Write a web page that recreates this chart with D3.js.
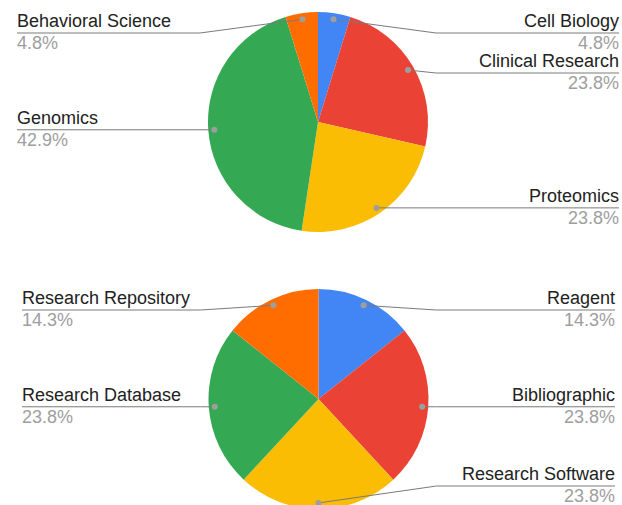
<!DOCTYPE html>
<html>
<head>
<meta charset="utf-8">
<script src="https://cdn.jsdelivr.net/npm/d3@7"></script>
<style>
  html, body { margin: 0; padding: 0; background: #fff; }
  svg { display: block; }
</style>
</head>
<body>
<svg id="chart" width="622" height="505"></svg>
<script>
// ---- data ----
const categoriesTop = ["Cell Biology", "Clinical Research", "Proteomics", "Genomics", "Behavioral Science"];
const valuesTop = [1, 5, 5, 9, 1];
const categoriesBottom = ["Reagent", "Bibliographic", "Research Software", "Research Database", "Research Repository"];
const valuesBottom = [3, 5, 5, 5, 3];
const sliceColors = ["#4285F4", "#EA4335", "#FBBC04", "#34A853", "#FF6D01"];

// ---- layout ----
const charts = [
  { cats: categoriesTop, vals: valuesTop, top: 0, height: 244, cx: 318, r: 110, leftX: 17, rightX: 619 },
  { cats: categoriesBottom, vals: valuesBottom, top: 277, height: 244, cx: 318.5, r: 110, leftX: 22, rightX: 615 }
];

const svg = d3.select("#chart");
const pct = d3.format(".1%");
const FONT = "'Liberation Sans', Arial, Helvetica, sans-serif";

charts.forEach(c => {
  const cy = c.top + c.height / 2;
  const total = d3.sum(c.vals);
  const data = c.cats.map((name, i) => ({ name, v: c.vals[i], color: sliceColors[i] }));
  const pie = d3.pie().sort(null).value(d => d.v).startAngle(0).endAngle(2 * Math.PI);
  const arcs = pie(data);
  const arc = d3.arc().innerRadius(0).outerRadius(c.r);
  const dotArc = d3.arc().innerRadius(c.r * 0.945).outerRadius(c.r * 0.945);

  const g = svg.append("g").attr("transform", `translate(${c.cx},${cy})`);
  g.selectAll("path.slice").data(arcs).join("path")
    .attr("class", "slice")
    .attr("d", arc)
    .attr("fill", d => d.data.color);

  // label layout
  const labels = arcs.map(a => {
    const [dx, dy] = dotArc.centroid(a);
    const mid = (a.startAngle + a.endAngle) / 2;
    const side = mid <= Math.PI + 1e-6 ? "right" : "left";
    return { a, dotX: c.cx + dx, dotY: cy + dy, side, name: a.data.name, value: a.data.v / total };
  });
  const minY = c.top + 33, maxY = c.top + c.height - 35, gap = 40;
  ["left", "right"].forEach(side => {
    const L = labels.filter(l => l.side === side).sort((p, q) => p.dotY - q.dotY);
    L.forEach((l, i) => {
      l.lineY = Math.min(Math.max(l.dotY, minY), maxY);
      if (i > 0) l.lineY = Math.max(l.lineY, L[i - 1].lineY + gap);
    });
    for (let i = L.length - 1; i >= 0; i--) {
      if (i === L.length - 1) L[i].lineY = Math.min(L[i].lineY, maxY);
      else L[i].lineY = Math.min(L[i].lineY, L[i + 1].lineY - gap);
    }
  });

  const lg = svg.append("g");
  labels.forEach(l => {
    const edgeX = l.side === "left" ? c.leftX : c.rightX;
    const elbowX = l.side === "left" ? c.cx - c.r - 8 : c.cx + c.r + 8;
    const path = d3.path();
    path.moveTo(edgeX, l.lineY);
    path.lineTo(elbowX, l.lineY);
    path.lineTo(l.dotX, l.dotY);
    lg.append("path").attr("d", path.toString())
      .attr("fill", "none").attr("stroke", "#7a7a7a").attr("stroke-width", 1);
    lg.append("circle").attr("cx", l.dotX).attr("cy", l.dotY).attr("r", 3).attr("fill", "#9e9e9e");
    const anchor = l.side === "left" ? "start" : "end";
    lg.append("text").attr("x", edgeX).attr("y", l.lineY - 6)
      .attr("text-anchor", anchor).attr("font-family", FONT).attr("font-size", 18)
      .attr("fill", "#222222").text(l.name);
    lg.append("text").attr("x", edgeX).attr("y", l.lineY + 16)
      .attr("text-anchor", anchor).attr("font-family", FONT).attr("font-size", 18)
      .attr("fill", "#9e9e9e").text(pct(l.value));
  });
});
</script>
</body>
</html>
